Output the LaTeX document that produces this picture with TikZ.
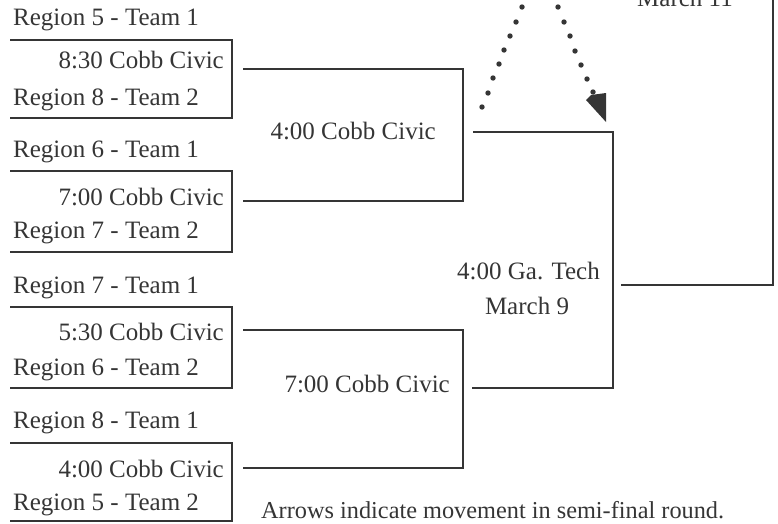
\documentclass[tikz,border=0pt]{standalone}
\usepackage{fontspec}
\setmainfont{Liberation Serif}
\definecolor{ink}{HTML}{353535}
\begin{document}
\begin{tikzpicture}[x=1pt,y=-1pt,
  lbl/.style={font=\fontsize{25}{29}\selectfont, text=ink, inner sep=0pt},
  team/.style={lbl, anchor=base west},
  slot/.style={lbl, anchor=base east},
  wire/.style={draw=ink, line width=1.4pt}]
\useasboundingbox (0,0) rectangle (778,523);

% ---- first round: team pairs with their game slots ----
\node[team] (r5a) at (13,25)  {Region 5 - Team 1};
\node[slot] (g1)  at (224,68) {8:30 Cobb Civic};
\node[team] (r8b) at (13,105) {Region 8 - Team 2};

\node[team] (r6a) at (13,157) {Region 6 - Team 1};
\node[slot] (g2)  at (224,205) {7:00 Cobb Civic};
\node[team] (r7b) at (13,238) {Region 7 - Team 2};

\node[team] (r7a) at (13,293) {Region 7 - Team 1};
\node[slot] (g3)  at (224,340) {5:30 Cobb Civic};
\node[team] (r6b) at (13,375) {Region 6 - Team 2};

\node[team] (r8a) at (13,428) {Region 8 - Team 1};
\node[slot] (g4)  at (224,477) {4:00 Cobb Civic};
\node[team] (r5b) at (13,510) {Region 5 - Team 2};

% bracket frames round each pairing
\coordinate (a1) at (10,40);  \coordinate (a2) at (232,40);
\coordinate (a3) at (232,118);\coordinate (a4) at (10,118);
\coordinate (b1) at (10,171); \coordinate (b2) at (232,171);
\coordinate (b3) at (232,252);\coordinate (b4) at (10,252);
\coordinate (c1) at (10,307); \coordinate (c2) at (232,307);
\coordinate (c3) at (232,388);\coordinate (c4) at (10,388);
\coordinate (d1) at (10,443); \coordinate (d2) at (232,443);
\coordinate (d3) at (232,521);\coordinate (d4) at (10,521);
\draw[wire] (a1) -- (a2) -- (a3) -- (a4);
\draw[wire] (b1) -- (b2) -- (b3) -- (b4);
\draw[wire] (c1) -- (c2) -- (c3) -- (c4);
\draw[wire] (d1) -- (d2) -- (d3) -- (d4);

% ---- quarter-final games ----
\node[slot] (q1) at (436,139) {4:00 Cobb Civic};
\node[slot] (q2) at (450,392) {7:00 Cobb Civic};

\coordinate (e1) at (243,69);  \coordinate (e2) at (463,69);
\coordinate (e3) at (463,201); \coordinate (e4) at (243,201);
\coordinate (f1) at (243,330); \coordinate (f2) at (463,330);
\coordinate (f3) at (463,468); \coordinate (f4) at (243,468);
\draw[wire] (e1) -- (e2) -- (e3) -- (e4);
\draw[wire] (f1) -- (f2) -- (f3) -- (f4);

% ---- semi-final ----
\node[slot] (sf)  at (600,279) {4:00 Ga. Tech};
\node[lbl, anchor=base] (sfd) at (527,314) {March 9};

\coordinate (s1) at (473,132); \coordinate (s2) at (613,132);
\coordinate (s3) at (613,388); \coordinate (s4) at (472,388);
\draw[wire] (s1) -- (s2) -- (s3) -- (s4);

% ---- final ----
\node[lbl, anchor=base west] (fd) at (637,6) {March 11};
\coordinate (t1) at (621,285); \coordinate (t2) at (773,285);
\coordinate (t3) at (773,-5);
\draw[wire] (t1) -- (t2) -- (t3);

% ---- dotted movement arrows ----
\foreach \p in {(482,107),(488,93),(493,78),(499,64),(504,50),(510,36),(516,22),(522,7)}
  \fill[ink] \p circle (2.7);
\foreach \p in {(558,7),(564,22),(570,36),(575,51),(581,65),(587,79),(593,92)}
  \fill[ink] \p circle (2.7);
\coordinate (tip) at (606,122);
\fill[ink] (tip) -- (586,100) -- (591,95) -- (606,93) -- cycle;

% ---- note ----
\node[lbl, font=\fontsize{24.3}{28}\selectfont, anchor=base west] (note) at (261,518)
  {Arrows indicate movement in semi-final round.};
\end{tikzpicture}
\end{document}
